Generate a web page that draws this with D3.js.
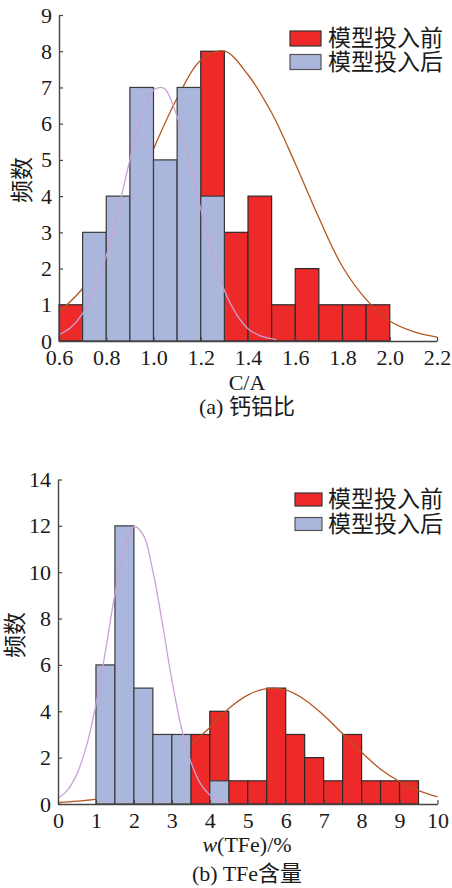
<!DOCTYPE html>
<html>
<head>
<meta charset="utf-8">
<script src="https://cdn.jsdelivr.net/npm/d3@7"></script>
<style>
  body { margin: 0; background: #fff; }
  text { fill: #1a1a1a; }
</style>
</head>
<body>
<div class="chart"></div>
<script>
// ---- (a) C/A data ----
var caBinWidth = 0.1;
var caBeforeStart = [0.6, 1.2, 1.3, 1.4, 1.5, 1.6, 1.7, 1.8, 1.9];
var caBeforeCount = [1, 8, 3, 4, 1, 2, 1, 1, 1];
var caAfterStart = [0.7, 0.8, 0.9, 1.0, 1.1, 1.2];
var caAfterCount = [3, 4, 7, 5, 7, 4];
var caBeforeCurveX = [0.6, 0.7, 0.8, 0.9, 1.0, 1.1, 1.2, 1.3, 1.4, 1.5, 1.6, 1.7, 1.8, 1.9, 2.0, 2.1, 2.2];
var caBeforeCurveY = [0.8, 1.45, 2.45, 3.75, 5.3, 6.7, 7.75, 8.0, 7.35, 6.3, 4.9, 3.4, 2.05, 1.15, 0.55, 0.26, 0.11];
var caAfterCurveX = [0.6, 0.65, 0.7, 0.75, 0.8, 0.85, 0.9, 0.95, 1.0, 1.03, 1.05, 1.1, 1.15, 1.2, 1.25, 1.3, 1.35, 1.4, 1.45, 1.52];
var caAfterCurveY = [0.17, 0.37, 0.76, 1.45, 2.35, 3.6, 5.0, 6.2, 6.92, 7.0, 6.95, 6.2, 5.0, 3.65, 2.4, 1.4, 0.75, 0.34, 0.15, 0.04];
var caXTicks = [0.6, 0.8, 1.0, 1.2, 1.4, 1.6, 1.8, 2.0, 2.2];
var caYTicks = [0, 1, 2, 3, 4, 5, 6, 7, 8, 9];

// ---- (b) TFe data ----
var feBinWidth = 0.5;
var feBeforeStart = [3.5, 4.0, 4.5, 5.0, 5.5, 6.0, 6.5, 7.0, 7.5, 8.0, 8.5, 9.0];
var feBeforeCount = [3, 4, 1, 1, 5, 3, 2, 1, 3, 1, 1, 1];
var feAfterStart = [1.0, 1.5, 2.0, 2.5, 3.0, 4.0];
var feAfterCount = [6, 12, 5, 3, 3, 1];
var feBeforeCurveX = [0, 0.5, 1, 1.5, 2, 2.5, 3, 3.5, 4, 4.5, 5, 5.5, 6, 6.5, 7, 7.5, 8, 8.5, 9, 9.5, 10];
var feBeforeCurveY = [0.06, 0.12, 0.21, 0.41, 0.72, 1.17, 1.79, 2.55, 3.3, 4.12, 4.7, 4.98, 4.92, 4.5, 3.83, 3.03, 2.23, 1.5, 0.97, 0.58, 0.31];
var feAfterCurveX = [0, 0.25, 0.5, 0.75, 1.0, 1.25, 1.5, 1.75, 2.0, 2.25, 2.5, 2.75, 3.0, 3.25, 3.5, 3.75, 4.0, 4.25, 4.5];
var feAfterCurveY = [0.25, 0.6, 1.3, 2.5, 4.3, 6.6, 9.05, 11.0, 11.97, 11.6, 10.05, 7.8, 5.35, 3.3, 1.82, 0.89, 0.39, 0.15, 0.05];
var feXTicks = [0, 1, 2, 3, 4, 5, 6, 7, 8, 9, 10];
var feYTicks = [0, 2, 4, 6, 8, 10, 12, 14];

var seriesNames = ["模型投入前", "模型投入后"];

var svgWidth = 452;
var svgHeight = 888;

var serif = '"Liberation Serif", "Times New Roman", "Noto Sans CJK SC", serif';
var redFill = "#ED2A29";
var blueFill = "#AAB6DC";
var redLine = "#B4561F";
var blueLine = "#C9A2D5";

var svg = d3
  .select(".chart")
  .append("svg")
  .attr("width", svgWidth)
  .attr("height", svgHeight)
  .style("font-family", serif);

function zip(xs, ys) {
  return xs.map(function(x, i) { return { x: x, y: ys[i] }; });
}

function drawPanel(p) {
  var x = d3.scaleLinear().domain(p.xDomain).range(p.xRange);
  var y = d3.scaleLinear().domain(p.yDomain).range(p.yRange);
  var g = svg.append("g");

  var line = d3.line()
    .x(function(d) { return x(d.x); })
    .y(function(d) { return y(d.y); })
    .curve(d3.curveCatmullRom.alpha(0.5));

  function bars(starts, counts, fill, stroke) {
    g.append("g")
      .selectAll("rect")
      .data(zip(starts, counts))
      .enter()
      .append("rect")
      .attr("x", function(d) { return x(d.x); })
      .attr("y", function(d) { return y(d.y); })
      .attr("width", function(d) { return x(d.x + p.binWidth) - x(d.x); })
      .attr("height", function(d) { return y(0) - y(d.y); })
      .attr("fill", fill)
      .attr("stroke", stroke)
      .attr("stroke-width", 1.2);
  }

  // red bars, red fit, then blue bars over them, blue fit on top
  bars(p.beforeStart, p.beforeCount, redFill, "#2b2b2b");
  g.append("path")
    .datum(zip(p.beforeCurveX, p.beforeCurveY))
    .attr("d", line)
    .attr("fill", "none")
    .attr("stroke", redLine)
    .attr("stroke-width", 1.3);
  bars(p.afterStart, p.afterCount, blueFill, "#3a3a3a");
  g.append("path")
    .datum(zip(p.afterCurveX, p.afterCurveY))
    .attr("d", line)
    .attr("fill", "none")
    .attr("stroke", blueLine)
    .attr("stroke-width", 1.3);

  var xAxis = g.append("g")
    .attr("transform", "translate(0," + p.yRange[0] + ")")
    .call(d3.axisBottom(x).tickValues(p.xTicks).tickFormat(p.xFormat)
      .tickSizeInner(-4).tickSizeOuter(0).tickPadding(8));
  var yAxis = g.append("g")
    .attr("transform", "translate(" + p.xRange[0] + ",0)")
    .call(d3.axisLeft(y).tickValues(p.yTicks)
      .tickSizeInner(-4).tickSizeOuter(0).tickPadding(7));

  [xAxis, yAxis].forEach(function(a) {
    a.attr("font-family", null).attr("font-size", null);
    a.select(".domain").attr("stroke", "#444").attr("stroke-width", 1.4);
    a.selectAll(".tick line").attr("stroke", "#444").attr("stroke-width", 1.2);
    a.selectAll(".tick text")
      .style("font-family", serif)
      .style("font-size", "22px")
      .attr("fill", "#1a1a1a");
  });

  // axis titles
  g.append("text")
    .attr("transform", "translate(" + p.yLabelPos[0] + "," + p.yLabelPos[1] + ") rotate(-90)")
    .attr("text-anchor", "middle")
    .attr("dominant-baseline", "central")
    .style("font-size", "23px")
    .text("频数");

  var xl = g.append("text")
    .attr("x", p.xLabelPos[0])
    .attr("y", p.xLabelPos[1])
    .attr("text-anchor", "middle")
    .style("font-size", "22px");
  p.xLabel.forEach(function(part) {
    xl.append("tspan").attr("font-style", part.italic ? "italic" : null).text(part.t);
  });

  g.append("text")
    .attr("x", p.titlePos[0])
    .attr("y", p.titlePos[1])
    .attr("text-anchor", "middle")
    .style("font-size", "22px")
    .text(p.title);

  // legend
  var legend = g.append("g");
  [redFill, blueFill].forEach(function(c, i) {
    var ly = p.legend.y + i * p.legend.step;
    legend.append("rect")
      .attr("x", p.legend.x)
      .attr("y", ly)
      .attr("width", p.legend.w)
      .attr("height", p.legend.h)
      .attr("fill", c)
      .attr("stroke", i === 0 ? "#333" : "#555")
      .attr("stroke-width", 1.2);
    legend.append("text")
      .attr("x", p.legend.tx)
      .attr("y", ly + p.legend.h / 2)
      .attr("dominant-baseline", "central")
      .style("font-size", "23px")
      .attr("fill", "#2a2a2a")
      .text(seriesNames[i]);
  });
}

drawPanel({
  xDomain: [0.6, 2.2], xRange: [59, 437],
  yDomain: [0, 9], yRange: [341, 15],
  binWidth: caBinWidth,
  beforeStart: caBeforeStart, beforeCount: caBeforeCount,
  afterStart: caAfterStart, afterCount: caAfterCount,
  beforeCurveX: caBeforeCurveX, beforeCurveY: caBeforeCurveY,
  afterCurveX: caAfterCurveX, afterCurveY: caAfterCurveY,
  xTicks: caXTicks, yTicks: caYTicks, xFormat: d3.format(".1f"),
  yLabelPos: [22, 180],
  xLabel: [{ t: "C/A" }], xLabelPos: [247, 390],
  title: "(a) 钙铝比", titlePos: [247, 414],
  legend: { x: 290, y: 31, w: 31, h: 15, step: 23.5, tx: 328 }
});

drawPanel({
  xDomain: [0, 10], xRange: [58, 437.5],
  yDomain: [0, 14], yRange: [804, 479.5],
  binWidth: feBinWidth,
  beforeStart: feBeforeStart, beforeCount: feBeforeCount,
  afterStart: feAfterStart, afterCount: feAfterCount,
  beforeCurveX: feBeforeCurveX, beforeCurveY: feBeforeCurveY,
  afterCurveX: feAfterCurveX, afterCurveY: feAfterCurveY,
  xTicks: feXTicks, yTicks: feYTicks, xFormat: d3.format("d"),
  yLabelPos: [15, 635],
  xLabel: [{ t: "w", italic: true }, { t: "(TFe)/%" }], xLabelPos: [247, 852],
  title: "(b) TFe含量", titlePos: [247, 881],
  legend: { x: 295, y: 493, w: 27, h: 13, step: 24.5, tx: 328 }
});
</script>
</body>
</html>
